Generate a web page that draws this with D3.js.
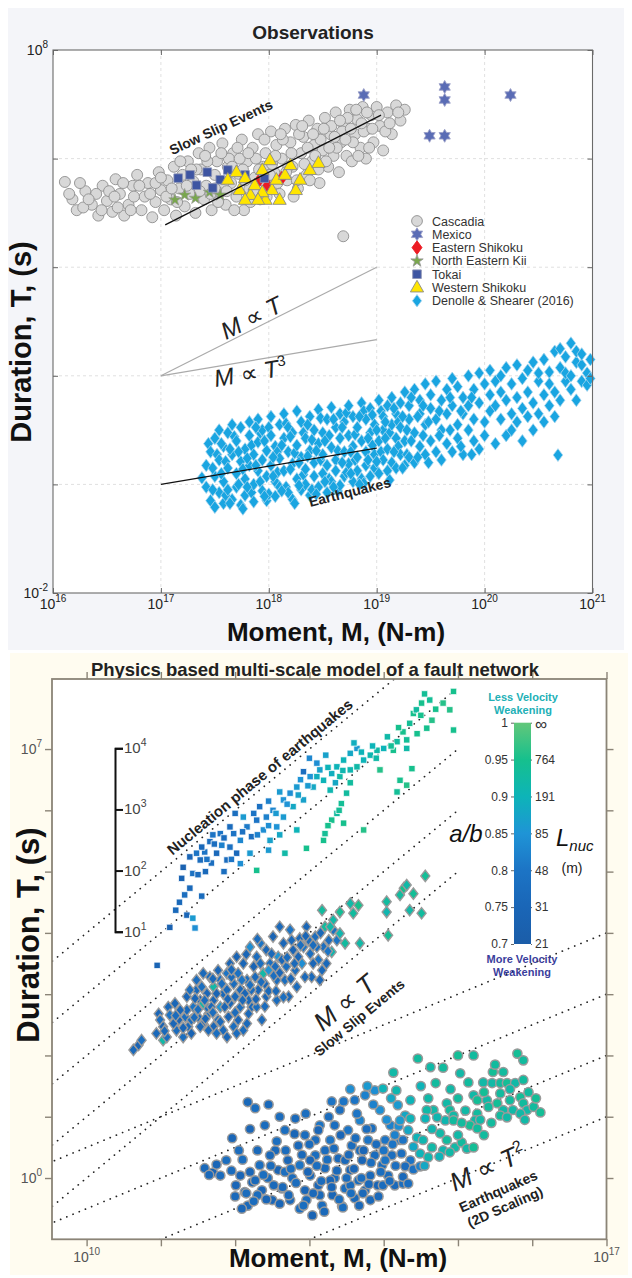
<!DOCTYPE html>
<html>
<head>
<meta charset="utf-8">
<title>Observations and fault network model</title>
<script src="https://cdn.jsdelivr.net/npm/d3@7"></script>
<style>
  body { margin: 0; background: #ffffff; }
  svg { display: block; }
  text { font-family: "Liberation Sans", Arial, sans-serif; }
</style>
</head>
<body>
<div id="wrapper"></div>
<script>
// ---------- DATA -----------------------------------------------------
// every value is log10(moment, N-m) and log10(duration, s)

// top panel: observations
const cascadia = [
  [16.11,5.57],[16.18,5.25],[16.22,5.05],[16.3,5.4],[16.36,5.15],[16.42,4.95],[16.46,5.5],[16.5,5.22],
  [16.55,5.02],[16.58,5.62],[16.62,5.35],[16.66,4.95],[16.7,5.15],[16.74,5.5],[16.78,5.7],[16.82,5.05],
  [16.85,5.3],[16.88,5.55],[16.92,4.92],[16.95,5.2],[16.98,5.75],[17.0,5.42],[17.03,5.05],[17.06,5.6],
  [17.09,5.25],[17.12,5.85],[17.14,4.95],[17.17,5.45],[17.2,5.7],[17.22,5.12],[17.25,5.95],[17.27,5.35],
  [17.3,5.58],[17.32,5.0],[17.35,6.1],[17.37,5.8],[17.4,5.25],[17.42,5.5],[17.45,6.2],[17.47,5.05],
  [17.5,5.7],[17.52,5.95],[17.55,5.38],[17.57,6.28],[17.6,5.15],[17.62,5.85],[17.65,5.55],[17.67,6.1],
  [17.7,5.3],[17.72,5.72],[17.75,6.35],[17.77,5.05],[17.8,5.95],[17.82,5.45],[17.85,6.2],[17.87,5.65],
  [17.9,6.45],[17.92,5.25],[17.95,5.85],[17.97,6.1],[18.0,5.5],[18.02,6.5],[18.05,5.75],[18.07,6.25],
  [18.1,5.35],[18.12,6.0],[18.15,6.55],[18.17,5.6],[18.2,6.3],[18.22,5.85],[18.25,6.62],[18.27,5.45],
  [18.3,6.1],[18.32,6.4],[18.35,5.7],[18.37,6.7],[18.4,5.95],[18.42,6.25],[18.45,6.55],[18.47,5.55],
  [18.5,6.15],[18.52,6.75],[18.55,5.85],[18.57,6.45],[18.6,6.05],[18.62,6.85],[18.65,5.75],[18.67,6.3],
  [18.7,6.6],[18.72,6.05],[18.75,6.9],[18.77,5.95],[18.8,6.45],[18.82,6.72],[18.85,6.2],[18.87,6.95],
  [18.9,6.0],[18.92,6.55],[18.95,6.8],[18.97,6.3],[19.0,6.95],[19.03,6.6],[19.06,6.15],[19.1,6.85],
  [19.14,6.45],[19.18,6.98],[19.22,6.7],[19.26,6.9],[18.69,4.57],
  [17.15,5.2],[17.33,5.8],[17.43,5.95],[17.53,5.2],[17.58,5.55],[17.63,6.0],[17.68,5.05],[17.73,6.0],
  [17.78,5.6],[17.83,5.2],[17.88,6.0],[17.93,5.6],[17.98,5.3],[18.03,5.9],[18.08,5.55],[18.13,6.35],
  [18.18,5.85],[18.23,5.3],[18.28,6.45],[18.33,5.9],[18.38,5.6],[18.43,6.05],[18.48,6.35],[18.53,5.95],
  [18.58,6.6],[18.63,6.2],[18.68,6.5],[18.73,6.75],[18.78,6.3],[18.83,6.05],[18.88,6.5],[18.93,6.2],
  [16.95,5.55],[16.75,5.3],[16.6,5.1],[16.4,5.35],[16.28,5.1],
  [16.15,5.35],[16.25,5.55],[16.33,5.25],[16.45,5.05],[16.52,5.4],[16.57,5.3],[16.65,5.55],[16.72,5.05],
  [16.8,5.5],[16.9,5.35],[17.0,5.65],[17.05,5.3],[17.1,5.45],[17.18,5.95],[17.24,5.5],[17.28,5.8],
  [17.36,5.4],[17.41,6.05],[17.46,5.35],[17.5,5.45],[17.56,6.1],[17.61,5.4],[17.66,5.85],[17.71,6.2],
  [17.76,5.8],[17.81,6.1],[17.86,5.4],[17.91,5.8],[17.96,6.35],[18.01,5.7],[18.06,6.05],[18.11,6.45],
  [18.16,5.75],[18.21,6.1],[18.26,5.6],[18.31,6.6],[18.36,6.2],[18.41,6.45],[18.46,5.8],[18.51,6.55],
  [18.56,6.2],[18.61,6.4],[18.66,6.7],[18.71,6.35],[18.76,6.55],[18.81,6.9],[18.86,6.65],[18.91,6.85],
  [18.96,6.55],[19.02,6.8],[19.08,6.5],[19.12,6.65],[19.2,6.85]
];
const mexico = [[18.88,7.17],[19.63,7.32],[19.63,7.08],[19.49,6.42],[19.63,6.42],[20.24,7.17]];
const easternShikoku = [[17.9,5.57],[17.99,5.51],[18.12,5.64]];
const northEasternKii = [[17.13,5.24],[17.22,5.33],[17.32,5.27],[17.45,5.38],[17.55,5.33]];
const tokai = [[17.16,5.64],[17.27,5.7],[17.33,5.51],[17.43,5.75],[17.55,5.61],[17.62,5.79],[17.78,5.7],[17.48,5.46],[17.96,5.64]];
const westernShikoku = [
  [17.62,5.61],[17.7,5.75],[17.78,5.64],[17.83,5.33],[17.87,5.51],[17.94,5.79],[17.97,5.24],[18.03,5.42],
  [18.07,5.61],[18.1,5.24],[18.15,5.7],[18.2,5.88],[18.25,5.42],[18.29,5.61],[18.38,5.79],[18.46,5.92],
  [17.73,5.42],[18.01,5.97],[17.94,5.38],[17.9,5.24],[17.78,5.24]
];
// Denolle & Shearer (2016): rows of [log M, [log T, ...]]
const denolleRows = [
  [17.38,[0.12]],[17.42,[-0.05,0.35]],[17.44,[0.75]],[17.46,[0.6,-0.3]],[17.5,[0.15,0.85,-0.42]],
  [17.52,[0.55]],[17.54,[0.45,-0.15,1.0]],[17.58,[0.7,0.05,-0.35]],[17.6,[-0.2,0.42]],[17.62,[0.3,0.95,-0.1]],
  [17.66,[0.55,1.1,-0.28]],[17.68,[0.88]],[17.7,[0.2,0.8,-0.05]],[17.74,[0.42,1.05,-0.38]],[17.76,[0.28,-0.45]],
  [17.78,[0.65,0.1,-0.2]],[17.82,[0.9,0.35,1.15]],[17.84,[0.72,-0.15]],[17.86,[0.0,0.55,-0.32]],[17.9,[0.78,0.25,1.2]],
  [17.92,[0.05,0.95]],[17.94,[0.45,-0.12,1.0]],[17.98,[0.62,0.15,-0.3]],[18.0,[1.05,-0.18]],[18.02,[0.9,0.35,1.25]],
  [18.06,[0.05,0.7,-0.22]],[18.08,[0.6,0.22]],[18.1,[1.1,0.48,-0.05]],[18.14,[0.25,0.85,1.3]],[18.16,[-0.05,1.12]],
  [18.18,[0.6,-0.15,1.05]],[18.22,[0.38,0.95,-0.28]],[18.24,[0.58,-0.35]],[18.26,[0.72,0.1,1.35]],[18.3,[0.5,1.15,-0.1]],
  [18.32,[0.95,0.18]],[18.34,[0.28,0.85,0.0]],[18.38,[1.25,0.62,-0.2]],[18.4,[0.82,-0.1]],[18.42,[0.4,1.0,0.15]],
  [18.46,[0.75,1.38,-0.05]],[18.48,[0.45,1.22]],[18.5,[0.2,0.95,0.55]],[18.54,[1.2,0.35,-0.15]],[18.56,[0.1,0.9]],
  [18.58,[0.68,1.42,0.05]],[18.62,[0.45,1.05,0.25]],[18.64,[0.62,-0.12]],[18.66,[0.85,1.3,-0.02]],[18.7,[0.15,0.6,1.15]],
  [18.72,[1.32,0.22]],[18.74,[1.45,0.38,0.9]],[18.78,[0.7,0.05,1.25]],[18.8,[0.92,0.45]],[18.82,[0.5,1.05,0.25]],
  [18.86,[1.5,0.8,0.1]],[18.88,[0.02,1.35]],[18.9,[0.35,1.2,0.6]],[18.94,[0.95,0.15,1.4]],[18.96,[0.72,1.28]],
  [18.98,[0.55,1.1,0.3]],[19.02,[1.55,0.8,0.2]],[19.04,[0.6,1.35]],[19.06,[0.45,1.25,1.0]],[19.1,[0.65,1.45,0.25]],
  [19.12,[0.95,0.08]],[19.14,[1.1,0.4,1.6]],[19.18,[0.85,0.3,1.3]],[19.2,[1.15,0.7]],[19.22,[0.55,1.5,1.05]],
  [19.26,[0.8,1.7,0.35]],[19.28,[1.0,0.55]],[19.3,[1.2,0.5,1.45]],[19.35,[0.95,1.75,0.4]],[19.4,[1.3,0.7,1.55]],
  [19.45,[0.55,1.1,1.85]],[19.5,[1.4,0.8,1.65]],[19.55,[0.6,1.2,1.9]],[19.6,[1.0,1.55,0.45]],[19.65,[1.75,1.3,0.75]],
  [19.7,[0.6,1.45,1.95]],[19.75,[1.1,1.8,0.85]],[19.8,[1.6,0.55,1.3]],[19.85,[2.0,1.0,1.45]],[19.9,[0.8,1.75,1.2]],
  [19.95,[1.5,2.05,0.65]],[20.0,[1.15,1.85,0.9]],[20.05,[1.65,1.35,2.1]],[20.1,[0.75,1.9,1.45]],[20.15,[1.2,2.0,1.7]],
  [20.2,[1.55,0.9,2.15]],[20.25,[1.85,1.3,1.0]],[20.3,[2.2,1.6,1.15]],[20.35,[1.4,1.95,0.8]],[20.4,[2.1,1.7,1.25]],
  [20.45,[1.5,2.25,1.0]],[20.5,[1.9,1.3,2.05]],[20.55,[1.65,2.3,1.15]],[20.6,[2.07,1.45,1.85]],[20.65,[1.7,2.45,1.25]],
  [20.68,[0.54]],[20.7,[2.15,1.55,2.5]],[20.75,[1.9,2.35,2.05]],[20.8,[2.6,2.0,1.75]],[20.85,[2.25,2.45,1.55]],
  [20.9,[2.2,1.9,2.4]],[20.95,[1.83,2.05]],[20.98,[1.95,2.3]],
  [17.48,[0.3,-0.1]],[17.56,[0.2,0.75]],[17.64,[-0.35,0.65]],[17.72,[0.0,0.6]],[17.8,[0.48,-0.05]],
  [17.88,[0.35,1.05]],[17.96,[0.8,-0.22]],[18.04,[0.5,0.15]],[18.12,[-0.12,0.72]],[18.2,[0.28,0.88]],
  [18.28,[-0.02,0.4]],[18.36,[0.52,1.1]],[18.44,[-0.18,0.62]],[18.52,[0.8,0.05]],[18.6,[1.2,-0.05]],
  [18.68,[0.4,1.05]],[18.76,[0.6,0.2]],[18.84,[1.25,0.0]],[18.92,[0.85,0.45]],[19.0,[1.0,0.42]],
  [19.08,[0.85,1.15]],[19.16,[0.6,1.4]],[19.24,[0.3,1.25]],[19.32,[0.8,1.6]],[19.38,[0.5,1.25]],
  [19.43,[0.9,1.45]],[19.48,[1.15,0.4]],[19.58,[0.9,1.35]],[19.68,[1.0,1.6]],[19.78,[1.35,0.7]],[19.88,[1.6,0.55]]
];
const sseFit = [[17.04,4.78],[19.04,6.8]];
const eqFit = [[17,0],[19,0.67]];
const refMT = [[17,2],[19,4]];
const refMT3 = [[17,2],[19,2.667]];
const legendNames = ["Cascadia","Mexico","Eastern Shikoku","North Eastern Kii","Tokai","Western Shikoku","Denolle & Shearer (2016)"];
const topXTicks = [16,17,18,19,20,21];
const topXGrid = [17,18,19,20];
const topYTicks = [-2,0,2,4,6,8];
const topYGrid = [0,2,4,6];
const topYLabels = [8,-2];

// bottom panel: model, [log M, log T, a/b]
const nucleation = [
  [10.95,3.47,0.74],[11.12,4.09,0.73],[11.2,4.37,0.76],[11.35,4.29,0.75],[11.43,4.24,0.86],[11.46,4.08,0.84],
  [11.32,4.62,0.78],[11.28,4.89,0.74],[11.39,4.73,0.76],[11.39,5.24,0.75],[11.53,5.19,0.77],[11.3,5.07,0.73],
  [11.43,4.97,0.79],[11.59,5.32,0.8],[11.75,5.3,0.76],[11.68,5.14,0.78],[11.82,5.43,0.82],[11.93,5.4,0.79],
  [11.89,5.19,0.77],[11.98,5.62,0.8],[12.07,5.51,0.83],[12.02,5.3,0.76],[12.16,5.73,0.81],[12.22,5.57,0.78],
  [12.29,5.84,0.8],[12.38,5.68,0.84],[12.42,5.89,0.82],[12.33,6.06,0.79],[12.11,5.89,0.86],[11.93,5.73,0.77],
  [11.8,5.62,0.8],[11.66,5.49,0.78],[11.55,5.4,0.76],[11.48,5.3,0.8],[12.07,5.13,0.84],[12.2,5.3,0.86],
  [12.47,5.51,0.87],[12.56,5.73,0.85],[12.51,6.0,0.83],[12.65,5.89,0.86],[12.65,6.17,0.85],[12.74,6.28,0.84],
  [12.83,6.38,0.86],[12.78,6.06,0.88],[12.92,6.17,0.87],[12.92,6.63,0.78],[13.01,6.55,0.85],[13.1,6.77,0.84],
  [13.05,6.38,0.88],[13.19,6.49,0.9],[13.14,6.66,0.87],[13.3,6.6,0.89],[13.37,6.71,0.9],[13.28,6.33,0.91],
  [13.46,6.82,0.9],[13.41,6.55,0.92],[13.55,6.93,0.88],[13.55,6.66,0.91],[13.64,7.01,0.86],[13.73,6.82,0.9],
  [13.82,6.9,0.91],[13.91,6.98,0.92],[14.0,7.01,0.9],[13.64,6.71,0.92],
  [14.13,6.98,0.95],[14.18,7.12,0.93],[14.26,7.28,0.95],[14.35,7.42,0.94],[14.4,7.58,0.95],[14.44,7.64,0.93],
  [14.51,7.75,0.95],[14.62,7.8,0.94],[14.65,7.47,0.96],[14.58,7.34,0.95],[14.31,7.15,0.94],[14.31,7.01,0.92],
  [14.94,7.94,0.95],[14.89,7.64,0.96],[14.94,7.31,0.95],[14.38,6.68,0.95],[14.31,6.41,0.96],[14.22,6.49,0.95],
  [14.18,6.3,0.94],[13.95,6.66,0.96],
  [13.19,5.51,0.95],[13.21,5.62,0.94],[13.3,5.84,0.95],[13.37,5.95,0.93],[13.43,6.11,0.94],[13.46,5.79,0.95],
  [13.5,6.28,0.93],[13.73,5.68,0.96],[12.96,5.38,0.95],[12.67,5.3,0.92],[12.29,5.02,0.95],[12.83,5.68,0.9],
  [12.25,5.95,0.8],[12.45,6.15,0.82],[12.6,6.3,0.86],[12.88,6.5,0.85],[13.0,6.85,0.83],[13.22,6.9,0.87],
  [13.35,6.45,0.88],[13.6,7.1,0.89],[13.85,7.05,0.9],[14.05,7.2,0.92],[14.45,7.25,0.95],[14.7,7.65,0.95],
  [14.55,7.9,0.94],[12.0,5.95,0.78],[11.7,5.6,0.8],[11.6,5.0,0.76],
  [11.25,4.5,0.76],[11.5,4.95,0.77],[11.62,5.2,0.8],[11.72,5.45,0.78],[11.85,5.55,0.77],[11.95,5.2,0.8],
  [12.1,5.65,0.79],[12.3,5.6,0.82],[12.45,5.75,0.84],[12.55,5.95,0.86],[12.7,6.1,0.85],[12.85,6.25,0.87],
  [12.98,6.4,0.86],[13.1,6.55,0.89],[13.25,6.7,0.9],[13.45,6.65,0.91],[13.7,6.95,0.9],[13.9,6.85,0.92],
  [14.1,7.05,0.94],[14.2,7.35,0.95],[14.5,7.55,0.95],[14.8,7.75,0.96],[13.25,5.75,0.95],[13.4,6.0,0.94],
  [13.55,6.45,0.93],[12.45,5.35,0.86],[12.6,5.6,0.88],[11.85,5.0,0.78],[11.55,4.6,0.77]
];
const slowSlip = [
  [10.63,2.09,0.76],[10.7,2.17,0.74],[10.74,2.25,0.78],[11.03,2.25,0.92],[10.97,2.68,0.75],[10.99,2.58,0.77],
  [11.03,2.47,0.74],[11.1,2.79,0.76],[11.12,2.66,0.8],[11.19,2.85,0.75],[11.21,2.41,0.77],[11.24,2.58,0.74],
  [11.33,2.63,0.78],[11.37,2.47,0.76],[11.35,2.96,0.75],[11.44,2.79,0.8],[11.48,3.07,0.76],[11.53,2.9,0.74],
  [11.55,3.12,0.78],[11.62,3.01,0.75],[11.66,3.28,0.77],[11.71,3.12,0.92],[11.77,3.39,0.75],[11.8,3.23,0.78],
  [11.84,3.01,0.76],[11.89,3.34,0.8],[11.93,3.5,0.75],[11.98,3.17,0.77],[12.02,3.61,0.74],[12.04,3.34,0.79],
  [12.07,3.07,0.76],[12.11,3.5,0.75],[12.16,3.23,0.78],[12.2,3.77,0.84],[12.22,2.79,0.76],[12.25,3.45,0.74],
  [12.29,3.61,0.77],[12.31,3.07,0.75],[12.34,3.83,0.8],[12.36,2.58,0.76],[12.38,3.34,0.92],[12.42,3.72,0.75],
  [12.47,3.5,0.78],[12.51,3.94,0.74],[12.56,3.23,0.77],[12.58,3.61,0.85],[12.6,4.1,0.76],[12.65,3.83,0.75],
  [12.69,3.45,0.78],[12.72,2.96,0.76],[12.74,4.05,0.8],[12.78,3.72,0.74],[12.83,3.12,0.77],[12.87,3.91,0.76],
  [12.9,3.5,0.84],[12.96,4.1,0.75],[13.01,3.66,0.78],[13.03,3.28,0.76],[13.08,3.94,0.77],[13.12,3.56,0.8],
  [13.14,3.23,0.75],[13.19,3.77,0.78],[13.23,3.5,0.76],[13.21,4.1,0.93],[13.3,3.69,0.91],[13.32,4.05,0.78],
  [13.37,3.88,0.8],
  [11.5,2.63,0.76],[11.57,2.52,0.74],[11.64,2.68,0.78],[11.71,2.47,0.75],[11.77,2.58,0.77],[11.84,2.41,0.76],
  [11.91,2.63,0.74],[11.98,2.47,0.78],[12.04,2.58,0.75],[12.11,2.41,0.77],[12.18,2.68,0.76],[11.8,2.79,0.85],
  [11.93,2.85,0.75],[12.07,2.79,0.78],[12.18,2.9,0.76],[11.62,2.79,0.77],[11.71,2.9,0.75],[11.57,2.85,0.92],
  [11.89,3.07,0.76],
  [11.35,2.74,0.76],[11.41,2.58,0.78],[11.46,2.93,0.75],[11.59,2.9,0.77],[11.68,2.79,0.76],[11.75,3.01,0.74],
  [11.82,3.17,0.78],[11.86,2.79,0.75],[11.95,3.28,0.77],[12.0,2.96,0.76],[12.09,3.23,0.8],[12.13,3.01,0.75],
  [12.22,3.07,0.77],[12.27,3.28,0.76],[12.34,3.5,0.78],[12.4,3.17,0.75],[12.45,3.39,0.85],[12.49,3.66,0.76],
  [12.54,3.45,0.77],[12.63,3.56,0.75],[12.67,3.23,0.78],[12.76,3.88,0.76],[12.81,3.39,0.77],[12.85,3.61,0.75],
  [12.92,3.77,0.8],[12.94,3.28,0.76],[12.99,3.88,0.77],[13.05,3.5,0.75],[13.1,3.77,0.78],[13.17,3.39,0.76],
  [13.26,3.88,0.77],[11.64,2.41,0.76],[11.75,2.36,0.78],[11.89,2.3,0.75],[12.02,2.36,0.77],[12.16,2.52,0.76],
  [12.29,2.79,0.78],[12.42,2.96,0.75],[12.56,2.9,0.77],[11.53,2.47,0.76],[11.41,2.36,0.74],[11.3,2.3,0.78],
  [11.17,2.52,0.75],[11.08,2.3,0.77],[10.94,2.36,0.76],[11.26,2.74,0.75],[11.48,3.23,0.77],[11.57,3.34,0.76],
  [11.39,3.07,0.78],
  [11.45,2.62,0.77],[11.6,2.6,0.75],[11.7,2.7,0.78],[11.8,2.55,0.76],[11.9,2.92,0.75],[12.0,2.7,0.77],
  [12.1,2.9,0.76],[12.2,3.15,0.78],[12.28,2.92,0.75],[12.35,3.2,0.77],[12.45,3.05,0.76],[12.52,3.3,0.78],
  [12.6,3.35,0.75],[12.7,3.6,0.77],[12.8,3.5,0.76],[12.88,3.8,0.78],[12.95,3.95,0.75],[13.05,3.8,0.77],
  [13.15,4.0,0.76],[13.25,3.7,0.8],[11.95,3.4,0.76],[12.15,3.65,0.75],[12.3,3.9,0.77],[11.7,3.25,0.76],
  [11.5,2.75,0.78],[11.3,2.45,0.75],[11.2,2.65,0.77],[11.05,2.4,0.76],[12.4,2.8,0.77],[12.55,3.05,0.76],
  [12.65,2.95,0.78],[12.75,3.25,0.75],
  [13.17,4.37,0.93],[13.32,4.21,0.92],[13.41,4.34,0.94],[13.55,4.48,0.92],[13.59,4.32,0.93],[13.66,4.45,0.95],
  [13.68,3.83,0.92],[14.04,4.51,0.93],[14.04,4.34,0.91],[14.06,3.96,0.94],[14.22,4.62,0.93],[14.27,4.73,0.95],
  [14.31,4.78,0.92],[14.4,4.64,0.94],[14.51,4.32,0.93],[14.35,4.37,0.92],[13.48,3.83,0.93],[13.41,3.99,0.91],
  [13.28,4.1,0.92],[14.56,4.93,0.94]
];
const earthquakes = [
  [11.59,0.16,0.76],[11.7,0.09,0.74],[11.88,0.29,0.78],[12.07,0.04,0.75],[12.13,-0.23,0.77],[12.17,-0.45,0.76],
  [12.23,-0.07,0.74],[12.33,0.21,0.78],[12.36,-0.2,0.75],[12.44,0.0,0.77],[12.54,0.45,0.76],[12.58,0.13,0.74],
  [12.63,-0.17,0.78],[12.71,0.29,0.75],[12.77,0.0,0.77],[12.85,0.53,0.76],[12.87,0.21,0.8],[12.94,-0.2,0.75],
  [12.96,-0.36,0.77],[13.01,0.04,0.76],[13.04,-0.61,0.74],[13.08,0.37,0.78],[13.12,-0.12,0.75],[13.17,-0.45,0.77],
  [13.21,0.16,0.76],[13.28,0.62,0.8],[13.31,-0.28,0.75],[13.34,0.0,0.77],[13.39,0.32,0.76],[13.44,-0.46,0.74],
  [13.48,-0.17,0.78],[13.52,0.78,0.8],[13.55,0.13,0.75],[13.57,0.53,0.77],[13.61,-0.33,0.76],[13.66,-0.04,0.78],
  [13.68,0.94,0.82],[13.71,0.29,0.75],[13.75,-0.2,0.77],[13.79,0.62,0.8],[13.82,0.04,0.76],[13.84,0.81,0.78],
  [13.88,0.37,0.77],[13.92,-0.12,0.75],[13.95,1.11,0.84],[13.98,0.21,0.78],[14.02,0.62,0.8],[14.06,0.04,0.77],
  [14.09,0.86,0.82],[14.11,0.37,0.78],[14.15,-0.12,0.76],[14.19,1.19,0.86],[14.22,0.62,0.8],
  [12.27,1.14,0.78],[12.17,1.24,0.76],[12.4,0.86,0.77],[11.96,0.65,0.75],[12.67,0.78,0.78],[12.81,0.97,0.76],
  [12.94,0.7,0.77],[13.14,0.86,0.8],[13.41,1.11,0.78],[13.61,1.27,0.8],[13.75,1.35,0.82],[13.88,1.43,0.84],
  [12.74,-0.36,0.76],[12.5,-0.36,0.75],[12.3,-0.28,0.77],[13.14,-0.28,0.76],[12.87,-0.5,0.78],[12.09,-0.5,0.75],
  [12.15,-0.25,0.77],[12.64,-0.15,0.76],[13.45,-0.48,0.78],[13.72,-0.25,0.76],[13.99,-0.12,0.77],[14.26,-0.09,0.78],
  [12.47,0.37,0.76],[12.67,0.1,0.78],[13.01,0.29,0.75],[13.21,0.45,0.77],[13.48,0.29,0.76],[13.68,0.45,0.78],
  [13.28,-0.04,0.75],[13.55,-0.12,0.77],[13.82,-0.36,0.76],[14.02,0.29,0.8],[14.15,0.7,0.82],[13.08,0.62,0.77],
  [13.34,0.86,0.78],[12.27,-0.04,0.76],[12.01,-0.12,0.75],[11.8,0.04,0.77],
  [11.65,0.05,0.76],[11.75,0.22,0.75],[11.95,0.12,0.77],[12.0,-0.3,0.76],[12.1,0.3,0.78],[12.2,0.1,0.75],
  [12.25,-0.38,0.77],[12.3,0.45,0.76],[12.38,0.05,0.78],[12.42,-0.35,0.75],[12.48,0.2,0.77],[12.52,-0.12,0.76],
  [12.56,0.6,0.78],[12.6,-0.42,0.75],[12.68,0.45,0.77],[12.72,-0.28,0.76],[12.75,0.15,0.78],[12.8,0.72,0.75],
  [12.82,-0.08,0.77],[12.9,0.38,0.76],[12.92,-0.45,0.78],[12.98,0.1,0.75],[13.0,0.55,0.77],[13.05,-0.25,0.76],
  [13.1,0.2,0.78],[13.12,0.78,0.75],[13.16,-0.05,0.77],[13.2,-0.55,0.76],[13.24,0.3,0.78],[13.26,1.0,0.77],
  [13.3,-0.15,0.75],[13.33,0.48,0.77],[13.37,0.12,0.76],[13.4,-0.35,0.78],[13.42,0.7,0.75],[13.46,1.25,0.8],
  [13.5,0.0,0.77],[13.53,0.38,0.76],[13.56,-0.25,0.78],[13.6,0.15,0.75],[13.62,0.65,0.77],[13.64,1.05,0.8],
  [13.67,-0.45,0.76],[13.7,0.0,0.78],[13.73,0.45,0.75],[13.77,0.8,0.77],[13.8,-0.1,0.76],[13.83,0.25,0.78],
  [13.86,1.2,0.82],[13.9,0.55,0.77],[13.93,-0.3,0.76],[13.96,0.1,0.78],[14.0,0.45,0.8],[14.04,0.95,0.84],
  [14.08,-0.05,0.77],[14.12,0.55,0.8],[14.16,0.2,0.78],[14.2,0.85,0.84],[14.1,1.3,0.88],[13.78,1.5,0.86],
  [13.55,1.45,0.84],[13.3,1.25,0.8],[12.95,1.05,0.78],[12.6,1.0,0.77],[12.45,1.2,0.76],[12.2,0.8,0.75],
  [12.05,0.45,0.77],
  [14.26,0.62,0.8],[14.24,0.4,0.78],[14.36,0.29,0.8],[14.29,0.19,0.77],[14.4,0.14,0.79],[14.26,0.02,0.76],
  [14.33,-0.09,0.78],[14.49,0.19,0.82],[14.13,1.72,0.92],[14.33,0.78,0.88],[14.45,0.66,0.9],[14.53,0.62,0.91],
  [14.4,0.51,0.88],[14.49,0.4,0.9],[14.6,0.34,0.91],[14.65,0.5,0.92],[14.36,1.27,0.9],[14.29,1.02,0.88],
  [14.36,0.97,0.9],[14.22,0.94,0.86],[13.99,1.46,0.9],[14.17,1.43,0.91],
  [14.46,1.95,0.93],[14.63,1.81,0.92],[15.21,2.0,0.93],[15.8,2.03,0.94],[15.88,1.92,0.93],[15.03,1.71,0.92],
  [15.14,1.56,0.93],[15.34,1.56,0.92],[15.47,1.73,0.94],[15.61,1.73,0.93],[15.46,1.55,0.92],[15.57,1.55,0.93],
  [15.66,1.55,0.94],[15.77,1.55,0.92],[15.88,1.6,0.93],[15.21,1.35,0.92],[15.26,1.27,0.94],[15.57,1.38,0.93],
  [15.39,1.27,0.92],[15.41,1.16,0.93],[15.53,1.22,0.94],[15.61,1.11,0.92],[15.7,1.27,0.93],[15.74,1.11,0.92],
  [15.84,1.32,0.94],[15.88,1.22,0.93],[15.93,1.11,0.92],[16.02,1.16,0.93],[16.11,1.07,0.94],[15.84,1.05,0.92],
  [15.57,1.02,0.93],[15.66,0.99,0.92],[15.26,1.05,0.93],[15.23,0.94,0.92],[15.16,0.86,0.94],[15.26,0.81,0.93],
  [14.85,1.22,0.92],[14.89,1.11,0.93],[14.94,1.02,0.92],[14.83,0.94,0.91],[14.94,0.94,0.93],[14.67,1.11,0.92],
  [14.72,0.99,0.91],[14.58,1.11,0.92],[14.56,0.97,0.9],[14.76,0.73,0.92],[14.85,0.62,0.93],[14.96,0.5,0.92],
  [15.05,0.58,0.93],[15.12,0.48,0.92],[15.21,0.5,0.94],[14.8,0.45,0.91],[14.89,0.42,0.92],
  [14.5,1.5,0.9],[14.6,1.3,0.92],[14.7,1.55,0.93],[14.9,1.45,0.92],[15.0,1.3,0.93],[15.1,1.1,0.92],
  [15.05,0.9,0.93],[15.3,0.95,0.92],[15.35,1.4,0.94],[15.45,0.9,0.93],[15.7,1.45,0.92],[15.95,1.4,0.93],
  [16.05,1.3,0.94],[15.9,0.95,0.92],[15.5,1.85,0.93],[15.0,2.0,0.94],[14.8,1.8,0.93],[14.65,0.8,0.91],
  [14.75,0.35,0.9],[15.0,0.7,0.92],[15.35,0.7,0.93],[14.55,0.2,0.88]
];
const steepOffsets = [-6, -7, -8, -9, -10];      // M ~ T   : log T = log M + c
const shallowOffsets = [-4.5, -5.5, -6.5, -7.5]; // M ~ T^2 : log T = log M / 2 + c
const botXTicks = [10,11,12,13,14,15,16,17];
const botXLabels = [10,17];
const botYTicks = [0,1,2,3,4,5,6,7];
const botYLabels = [7,0];
const insetTicks = [1,2,3,4];
const abTicks = [0.7,0.75,0.8,0.85,0.9,0.95,1];
const lnucLabels = ["21","31","48","85","191","764","\u221E"];

// colour map of a/b
const abStops = [0.7,0.75,0.8,0.85,0.9,0.95,1];
const abColors = ["#1b5da8","#1a66b7","#1c74c5","#1f94d6","#0db4b8","#16c08d","#62c77a"];
const abColor = d3.scaleLinear().domain(abStops).range(abColors);

// ---------- SVG ------------------------------------------------------
const svg = d3.select("#wrapper").append("svg").attr("width", 632).attr("height", 1278);
const p10 = (v) => Math.pow(10, v);
const serif = "'Liberation Serif', 'DejaVu Serif', serif";

// marker shapes
const circlePath = (r) => d3.symbol(d3.symbolCircle, Math.PI * r * r)();
const squarePath = (s) => `M${-s},${-s}H${s}V${s}H${-s}Z`;
const diamondPath = (w, h) => `M0,${-h}L${w},0L0,${h}L${-w},0Z`;
const trianglePath = (r) => `M0,${-r}L${r * 0.92},${r * 0.62}L${-r * 0.92},${r * 0.62}Z`;
const starPath = (r) => d3.symbol(d3.symbolStar, (r * r) / 0.8908130915292852)();
function hexagramPath(r) {
  const pts = [];
  for (let k = 0; k < 12; k++) {
    const a = (-90 + k * 30) * Math.PI / 180;
    const rr = k % 2 === 0 ? r : r / Math.sqrt(3);
    pts.push([rr * Math.cos(a), rr * Math.sin(a)]);
  }
  return "M" + pts.map((p) => p.join(",")).join("L") + "Z";
}

// superscript tick labels "10^n"
function powLabel(text, exp, base, small, rise) {
  text.append("tspan").attr("font-size", base).text("10");
  text.append("tspan").attr("font-size", small).attr("dy", -rise).text(exp);
}

function scatter(g, data, xs, ys, d, fill, stroke, sw) {
  g.append("g").selectAll("path").data(data).join("path")
    .attr("transform", (p) => `translate(${xs(p10(p[0]))},${ys(p10(p[1]))})`)
    .attr("d", d)
    .attr("fill", fill)
    .attr("stroke", stroke)
    .attr("stroke-width", sw);
}

function rotatedText(g, x, y, angle) {
  return g.append("g").attr("transform", `translate(${x},${y}) rotate(${angle})`);
}

// ---------- TOP PANEL: OBSERVATIONS ---------------------------------
const topBox = { left: 53, right: 592.5, top: 50, bottom: 593 };
const xTop = d3.scaleLog().domain([1e16, 1e21]).range([topBox.left, topBox.right]);
const yTop = d3.scaleLog().domain([1e-2, 1e8]).range([topBox.bottom, topBox.top]);

svg.append("rect").attr("x", 8).attr("y", 8).attr("width", 616).attr("height", 642).attr("fill", "#f4f5f9");
svg.append("text").attr("x", 313).attr("y", 39).attr("text-anchor", "middle")
  .attr("font-size", 19).attr("font-weight", "bold").attr("fill", "#222").text("Observations");

const gTop = svg.append("g");
gTop.append("rect").attr("x", topBox.left).attr("y", topBox.top)
  .attr("width", topBox.right - topBox.left).attr("height", topBox.bottom - topBox.top).attr("fill", "#fff");

// grid
gTop.selectAll(".vg").data(topXGrid).join("line")
  .attr("x1", (d) => xTop(p10(d))).attr("x2", (d) => xTop(p10(d)))
  .attr("y1", topBox.top).attr("y2", topBox.bottom)
  .attr("stroke", "#e0e0e0").attr("stroke-dasharray", "3,3");
gTop.selectAll(".hg").data(topYGrid).join("line")
  .attr("y1", (d) => yTop(p10(d))).attr("y2", (d) => yTop(p10(d)))
  .attr("x1", topBox.left).attr("x2", topBox.right)
  .attr("stroke", "#e0e0e0").attr("stroke-dasharray", "3,3");

// markers
const topLine = d3.line().x((d) => xTop(p10(d[0]))).y((d) => yTop(p10(d[1])));
const denolle = denolleRows.flatMap((r) => r[1].map((t) => [r[0], t]));
scatter(gTop, denolle, xTop, yTop, diamondPath(4.8, 6.4), "#19a5e1", "#a6d6ef", 0.8);
scatter(gTop, cascadia, xTop, yTop, circlePath(5.5), "#d8d8d8", "#8e8e8e", 0.9);
scatter(gTop, mexico, xTop, yTop, hexagramPath(6.5), "#5a6cb5", "#9da2c8", 0.9);
scatter(gTop, northEasternKii, xTop, yTop, starPath(6.5), "#79a74d", "#9a9a9a", 0.7);
scatter(gTop, easternShikoku, xTop, yTop, diamondPath(5, 6.8), "#ec1c24", "#ec1c24", 0.6);
scatter(gTop, tokai, xTop, yTop, squarePath(4.3), "#3e55a2", "#8e95b5", 0.8);
scatter(gTop, westernShikoku, xTop, yTop, trianglePath(7.2), "#ffe500", "#8a8a8a", 0.9);

// fits and reference slopes
gTop.append("path").attr("d", topLine(refMT)).attr("fill", "none").attr("stroke", "#aaa").attr("stroke-width", 1.2);
gTop.append("path").attr("d", topLine(refMT3)).attr("fill", "none").attr("stroke", "#aaa").attr("stroke-width", 1.2);
gTop.append("path").attr("d", topLine(sseFit)).attr("fill", "none").attr("stroke", "#111").attr("stroke-width", 1.3);
gTop.append("path").attr("d", topLine(eqFit)).attr("fill", "none").attr("stroke", "#111").attr("stroke-width", 1.3);

// frame and inward ticks
const tickTop = (g) => g.call((s) => s.select(".domain").remove())
  .call((s) => s.selectAll("line").attr("stroke", "#666"));
gTop.append("g").attr("transform", `translate(0,${topBox.bottom})`)
  .call(d3.axisBottom(xTop).tickValues(topXTicks.map(p10)).tickSize(-5).tickFormat("")).call(tickTop);
gTop.append("g").attr("transform", `translate(0,${topBox.top})`)
  .call(d3.axisTop(xTop).tickValues(topXTicks.map(p10)).tickSize(-5).tickFormat("")).call(tickTop);
gTop.append("g").attr("transform", `translate(${topBox.left},0)`)
  .call(d3.axisLeft(yTop).tickValues(topYTicks.map(p10)).tickSize(-5).tickFormat("")).call(tickTop);
gTop.append("g").attr("transform", `translate(${topBox.right},0)`)
  .call(d3.axisRight(yTop).tickValues(topYTicks.map(p10)).tickSize(-5).tickFormat("")).call(tickTop);
gTop.append("rect").attr("x", topBox.left).attr("y", topBox.top)
  .attr("width", topBox.right - topBox.left).attr("height", topBox.bottom - topBox.top)
  .attr("fill", "none").attr("stroke", "#6a6a6a").attr("stroke-width", 1.1);

// tick labels
topXTicks.forEach((e) => {
  const t = gTop.append("text").attr("x", xTop(p10(e))).attr("y", 609)
    .attr("text-anchor", "middle").attr("fill", "#222");
  powLabel(t, e, 14, 10, 7);
});
topYLabels.forEach((e) => {
  const t = gTop.append("text").attr("x", 48).attr("y", yTop(p10(e)) + 5)
    .attr("text-anchor", "end").attr("fill", "#222");
  powLabel(t, e, 14, 10, 7);
});

// axis titles
gTop.append("text").attr("transform", "translate(31,342) rotate(-90)").attr("text-anchor", "middle")
  .attr("font-size", 29).attr("font-weight", "bold").attr("fill", "#111").text("Duration, T, (s)");
gTop.append("text").attr("x", 336).attr("y", 641).attr("text-anchor", "middle")
  .attr("font-size", 26).attr("font-weight", "bold").attr("fill", "#111").text("Moment, M, (N-m)");

// annotations
const angleOf = (xs, ys, seg) => Math.atan2(ys(p10(seg[1][1])) - ys(p10(seg[0][1])),
  xs(p10(seg[1][0])) - xs(p10(seg[0][0]))) * 180 / Math.PI;
rotatedText(gTop, xTop(p10(17.556)), yTop(p10(6.58)), angleOf(xTop, yTop, sseFit) + 2)
  .append("text").attr("text-anchor", "middle").attr("y", 5).attr("font-size", 14)
  .attr("font-weight", "bold").attr("fill", "#222").text("Slow Slip Events");
rotatedText(gTop, xTop(p10(18.75)), yTop(p10(-0.14)), -14)
  .append("text").attr("text-anchor", "middle").attr("y", 5).attr("font-size", 14)
  .attr("font-weight", "bold").attr("fill", "#222").text("Earthquakes");

const mt = rotatedText(gTop, xTop(p10(17.84)), yTop(p10(3.06)), angleOf(xTop, yTop, refMT))
  .append("text").attr("text-anchor", "middle").attr("y", 8).attr("font-size", 24)
  .attr("fill", "#222").attr("font-family", serif);
mt.append("tspan").attr("font-style", "italic").text("M");
mt.append("tspan").text(" \u221D ");
mt.append("tspan").attr("font-style", "italic").text("T");
const mt3 = rotatedText(gTop, xTop(p10(17.83)), yTop(p10(2.05)), angleOf(xTop, yTop, refMT3))
  .append("text").attr("text-anchor", "middle").attr("y", 8).attr("font-size", 24)
  .attr("fill", "#222").attr("font-family", serif);
mt3.append("tspan").attr("font-style", "italic").text("M");
mt3.append("tspan").text(" \u221D ");
mt3.append("tspan").attr("font-style", "italic").text("T");
mt3.append("tspan").attr("font-size", 15).attr("dy", -10).text("3");

// legend
const legendMarks = [
  { d: circlePath(5.4), fill: "#d8d8d8", stroke: "#8e8e8e" },
  { d: hexagramPath(6.5), fill: "#5a6cb5", stroke: "#9da2c8" },
  { d: diamondPath(5, 6.8), fill: "#ec1c24", stroke: "#ec1c24" },
  { d: starPath(6.5), fill: "#79a74d", stroke: "#9a9a9a" },
  { d: squarePath(4.3), fill: "#3e55a2", stroke: "#8e95b5" },
  { d: trianglePath(7.2), fill: "#ffe500", stroke: "#8a8a8a" },
  { d: diamondPath(4.6, 6.2), fill: "#19a5e1", stroke: "#a6d6ef" }
];
const legend = gTop.append("g").attr("transform", "translate(417,221)");
legendNames.forEach((name, i) => {
  const row = legend.append("g").attr("transform", `translate(0,${i * 13.3})`);
  row.append("path").attr("d", legendMarks[i].d).attr("fill", legendMarks[i].fill)
    .attr("stroke", legendMarks[i].stroke).attr("stroke-width", 0.9);
  row.append("text").attr("x", 15).attr("y", 4.5).attr("font-size", 12.5).attr("fill", "#333").text(name);
});

// ---------- BOTTOM PANEL: MODEL -------------------------------------
const botBox = { left: 52, right: 606.5, top: 679, bottom: 1239.3 };
const xBot = d3.scaleLog().domain([p10(9.534), 1e17]).range([botBox.left, botBox.right]);
const yBot = d3.scaleLog().domain([0.1, p10(8.143)]).range([botBox.bottom, botBox.top]);

svg.append("rect").attr("x", 10).attr("y", 653).attr("width", 618).attr("height", 622).attr("fill", "#fffcf0");
svg.append("text").attr("x", 315).attr("y", 676).attr("text-anchor", "middle")
  .attr("font-size", 18.5).attr("font-weight", "bold").attr("fill", "#222")
  .text("Physics based multi-scale model of a fault network");

const gBot = svg.append("g");
gBot.append("rect").attr("x", botBox.left).attr("y", botBox.top)
  .attr("width", botBox.right - botBox.left).attr("height", botBox.bottom - botBox.top).attr("fill", "#fff");

svg.append("clipPath").attr("id", "botClip").append("rect")
  .attr("x", botBox.left).attr("y", botBox.top)
  .attr("width", botBox.right - botBox.left).attr("height", botBox.bottom - botBox.top);

// dotted scaling lines
const botLine = d3.line().x((d) => xBot(p10(d[0]))).y((d) => yBot(p10(d[1])));
const gLines = gBot.append("g").attr("clip-path", "url(#botClip)");
steepOffsets.forEach((c) => {
  gLines.append("path").attr("d", botLine([[9.4, 9.4 + c], [15, 15 + c]]))
    .attr("fill", "none").attr("stroke", "#222").attr("stroke-width", 1.7)
    .attr("stroke-linecap", "round").attr("stroke-dasharray", "0.1,6.6");
});
shallowOffsets.forEach((c) => {
  gLines.append("path").attr("d", botLine([[9.4, 4.7 + c], [17, 8.5 + c]]))
    .attr("fill", "none").attr("stroke", "#222").attr("stroke-width", 1.7)
    .attr("stroke-linecap", "round").attr("stroke-dasharray", "0.1,6.6");
});

// model events
scatter(gBot, earthquakes, xBot, yBot, circlePath(4.6), (p) => abColor(p[2]), "#9a9a9a", 1.5);
scatter(gBot, slowSlip, xBot, yBot, diamondPath(4.5, 5.7), (p) => abColor(p[2]), "#9a9a9a", 1.4);
scatter(gBot, nucleation, xBot, yBot, squarePath(3.2), (p) => abColor(p[2]), "#ffffff", 0.8);

// frame with outward ticks
const tickBot = (g) => g.call((s) => s.select(".domain").remove())
  .call((s) => s.selectAll("line").attr("stroke", "#8b8477").attr("stroke-width", 1.4));
gBot.append("g").attr("transform", `translate(0,${botBox.bottom})`)
  .call(d3.axisBottom(xBot).tickValues(botXTicks.map(p10)).tickSize(7).tickFormat("")).call(tickBot);
gBot.append("g").attr("transform", `translate(0,${botBox.top})`)
  .call(d3.axisTop(xBot).tickValues(botXTicks.map(p10)).tickSize(7).tickFormat("")).call(tickBot);
gBot.append("g").attr("transform", `translate(${botBox.left},0)`)
  .call(d3.axisLeft(yBot).tickValues(botYTicks.map(p10)).tickSize(7).tickFormat("")).call(tickBot);
gBot.append("g").attr("transform", `translate(${botBox.right},0)`)
  .call(d3.axisRight(yBot).tickValues(botYTicks.map(p10)).tickSize(7).tickFormat("")).call(tickBot);
gBot.append("rect").attr("x", botBox.left).attr("y", botBox.top)
  .attr("width", botBox.right - botBox.left).attr("height", botBox.bottom - botBox.top)
  .attr("fill", "none").attr("stroke", "#8b8477").attr("stroke-width", 1.8);

botXLabels.forEach((e) => {
  const t = gBot.append("text").attr("x", xBot(p10(e))).attr("y", 1262)
    .attr("text-anchor", "middle").attr("fill", "#555").attr("font-family", serif);
  powLabel(t, e, 14, 10, 7);
});
botYLabels.forEach((e) => {
  const t = gBot.append("text").attr("x", 42).attr("y", yBot(p10(e)) + 5)
    .attr("text-anchor", "end").attr("fill", "#555").attr("font-family", serif);
  powLabel(t, e, 14, 10, 7);
});

gBot.append("text").attr("transform", "translate(39,935) rotate(-90)").attr("text-anchor", "middle")
  .attr("font-size", 31).attr("font-weight", "bold").attr("fill", "#111").text("Duration, T, (s)");
gBot.append("text").attr("x", 338).attr("y", 1267).attr("text-anchor", "middle")
  .attr("font-size", 26).attr("font-weight", "bold").attr("fill", "#111").text("Moment, M, (N-m)");

// inset axis for nucleation durations
const yInset = d3.scaleLog().domain([p10(1), p10(4)]).range([931.7, 748.3]);
const gInset = gBot.append("g").attr("transform", "translate(115,0)")
  .call(d3.axisRight(yInset).tickValues(insetTicks.map(p10)).tickSize(8).tickSizeOuter(8).tickFormat(""));
gInset.selectAll("path, line").attr("stroke", "#111").attr("stroke-width", 2);
insetTicks.forEach((e) => {
  const t = gInset.append("text").attr("x", 9).attr("y", yInset(p10(e)) + 5)
    .attr("fill", "#444").attr("font-family", serif);
  powLabel(t, e, 15, 10.5, 7);
});

// annotations
const steepSeg = [[10, 10 + steepOffsets[0]], [14, 14 + steepOffsets[0]]];
const shallowSeg = [[10, 5 + shallowOffsets[3]], [16, 8 + shallowOffsets[3]]];
const steepAngle = angleOf(xBot, yBot, steepSeg);
const shallowAngle = angleOf(xBot, yBot, shallowSeg);

rotatedText(gBot, xBot(p10(12.335)), yBot(p10(6.543)), steepAngle)
  .append("text").attr("text-anchor", "middle").attr("y", 5).attr("font-size", 15)
  .attr("font-weight", "bold").attr("fill", "#222").text("Nucleation phase of earthquakes");

const sseLab = rotatedText(gBot, xBot(p10(13.48)), yBot(p10(2.85)), steepAngle);
const mtB = sseLab.append("text").attr("text-anchor", "middle").attr("y", 8).attr("font-size", 26)
  .attr("fill", "#222").attr("font-family", serif);
mtB.append("tspan").attr("font-style", "italic").text("M");
mtB.append("tspan").text(" \u221D ");
mtB.append("tspan").attr("font-style", "italic").text("T");
sseLab.append("text").attr("text-anchor", "middle").attr("x", 2).attr("y", 25).attr("font-size", 14)
  .attr("font-weight", "bold").attr("fill", "#222").text("Slow Slip Events");

const eqLab = rotatedText(gBot, xBot(p10(15.405)), yBot(p10(0.158)), shallowAngle - 1.5);
const mt2 = eqLab.append("text").attr("text-anchor", "middle").attr("y", 8).attr("font-size", 26)
  .attr("fill", "#222").attr("font-family", serif);
mt2.append("tspan").attr("font-style", "italic").text("M");
mt2.append("tspan").text(" \u221D ");
mt2.append("tspan").attr("font-style", "italic").text("T");
mt2.append("tspan").attr("font-size", 16).attr("dy", -11).text("2");
eqLab.append("text").attr("text-anchor", "middle").attr("x", 0).attr("y", 30).attr("font-size", 14)
  .attr("font-weight", "bold").attr("fill", "#222").text("Earthquakes");
eqLab.append("text").attr("text-anchor", "middle").attr("x", 0).attr("y", 47).attr("font-size", 14)
  .attr("font-weight", "bold").attr("fill", "#222").text("(2D Scaling)");

// colour bar
const cb = { x: 514, w: 17, top: 722.7, bottom: 944 };
const yCb = d3.scaleLinear().domain([0.7, 1]).range([cb.bottom, cb.top]);
const grad = svg.append("defs").append("linearGradient").attr("id", "abGrad")
  .attr("x1", 0).attr("y1", 1).attr("x2", 0).attr("y2", 0);
abStops.forEach((v, i) => {
  grad.append("stop").attr("offset", (v - 0.7) / 0.3).attr("stop-color", abColors[i]);
});
gBot.append("rect").attr("x", cb.x).attr("y", cb.top).attr("width", cb.w)
  .attr("height", cb.bottom - cb.top).attr("fill", "url(#abGrad)");

const cbLeft = gBot.append("g").attr("transform", `translate(${cb.x},0)`)
  .call(d3.axisLeft(yCb).tickValues(abTicks).tickSize(3).tickFormat((d) => String(d)));
cbLeft.select(".domain").remove();
cbLeft.selectAll("line").attr("stroke", "#666");
cbLeft.selectAll("text").attr("font-size", 12).attr("fill", "#333").attr("font-family", "'Liberation Sans', Arial, sans-serif");

const cbRight = gBot.append("g").attr("transform", `translate(${cb.x + cb.w},0)`)
  .call(d3.axisRight(yCb).tickValues(abTicks).tickSize(1).tickFormat((d, i) => lnucLabels[i]));
cbRight.select(".domain").remove();
cbRight.selectAll("line").attr("stroke", "#666");
cbRight.selectAll("text").attr("font-size", 12).attr("fill", "#333").attr("font-family", "'Liberation Sans', Arial, sans-serif");
cbRight.selectAll("text").filter((d, i) => i === lnucLabels.length - 1).attr("font-size", 17).attr("dy", "0.42em");

gBot.append("text").attr("x", 523).attr("y", 701).attr("text-anchor", "middle").attr("font-size", 11)
  .attr("font-weight", "bold").attr("fill", "#22b0b6").text("Less Velocity");
gBot.append("text").attr("x", 523).attr("y", 714).attr("text-anchor", "middle").attr("font-size", 11)
  .attr("font-weight", "bold").attr("fill", "#22b0b6").text("Weakening");
gBot.append("text").attr("x", 522).attr("y", 963).attr("text-anchor", "middle").attr("font-size", 11)
  .attr("font-weight", "bold").attr("fill", "#3a3e9c").text("More Velocity");
gBot.append("text").attr("x", 522).attr("y", 976).attr("text-anchor", "middle").attr("font-size", 11)
  .attr("font-weight", "bold").attr("fill", "#3a3e9c").text("Weakening");

gBot.append("text").attr("x", 466).attr("y", 842).attr("text-anchor", "middle").attr("font-size", 24)
  .attr("font-style", "italic").attr("fill", "#111").attr("font-family", serif).text("a/b");
const lnuc = gBot.append("text").attr("x", 556).attr("y", 846).attr("font-size", 24)
  .attr("font-style", "italic").attr("fill", "#111").attr("font-family", serif);
lnuc.append("tspan").text("L");
lnuc.append("tspan").attr("font-size", 15).attr("dy", 5).text("nuc");
gBot.append("text").attr("x", 572).attr("y", 873).attr("text-anchor", "middle").attr("font-size", 14)
  .attr("fill", "#222").text("(m)");
</script>
</body>
</html>
